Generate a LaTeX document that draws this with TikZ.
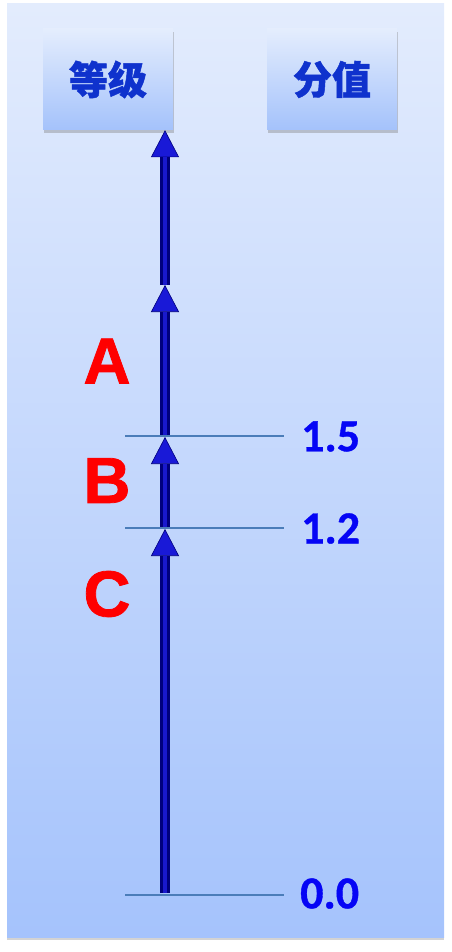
\documentclass[tikz,border=0pt]{standalone}
\usepackage{fontspec}
\setmainfont{Liberation Sans}
\newfontfamily\cjk{Noto Sans CJK SC}[BoldFeatures={FakeBold=1.2}]
\newfontfamily\numfont{Carlito}[BoldFeatures={FakeBold=0.8}]
\newfontfamily\gradefont{Liberation Sans}[BoldFeatures={FakeBold=1.2}]
\usetikzlibrary{arrows.meta,shadows}
\definecolor{panelTop}{RGB}{227,236,253}
\definecolor{panelBot}{RGB}{165,195,252}
\definecolor{hdrTop}{RGB}{228,237,253}
\definecolor{hdrBot}{RGB}{164,194,251}
\definecolor{hdrText}{RGB}{15,50,205}
\definecolor{shaftDark}{RGB}{0,0,125}
\definecolor{shaftLight}{RGB}{25,25,205}
\definecolor{tipFill}{RGB}{25,25,215}
\definecolor{tickLine}{RGB}{75,125,185}
\definecolor{numBlue}{RGB}{5,5,245}
\begin{document}
\begin{tikzpicture}[x=1pt,y=-1pt,
  hdr/.style={minimum width=130pt,minimum height=101pt,inner sep=0pt,
    top color=hdrTop,bottom color=hdrBot,
    drop shadow={opacity=0.4,shadow xshift=0.5pt,shadow yshift=-3pt},
    font=\cjk\bfseries\fontsize{39}{40}\selectfont,text=hdrText},
  shaft/.style={line width=9.5pt,draw=shaftDark,
    -{Triangle[width=28pt,length=27pt,line width=0.6pt,fill=tipFill,color=shaftDark]}},
  shine/.style={line width=3.5pt,draw=shaftLight,shorten >=27pt},
  tick/.style={draw=tickLine,line width=1.4pt},
  num/.style={anchor=west,inner sep=0pt,text=numBlue,font=\numfont\bfseries\fontsize{46}{46}\selectfont},
  grade/.style={inner sep=0pt,text=red,font=\gradefont\bfseries\fontsize{65}{65}\selectfont}]
\useasboundingbox (0,0) rectangle (451,952);
% panel
\fill[top color=panelTop,bottom color=panelBot,
  drop shadow={opacity=0.35,shadow xshift=0pt,shadow yshift=-3pt}]
  (7,4) rectangle (444,937);
% headers
\node[hdr] (lvl) at (108,79.5) {等级};
\node[hdr] (val) at (332,79.5) {分值};
% chain points
\coordinate (p0) at (165,893);
\coordinate (p1) at (165,529);
\coordinate (p2) at (165,437);
\coordinate (p3) at (165,285);
\coordinate (ptop) at (p3 |- lvl.south);
% shafts
\draw[shaft] (p0) -- (p1);
\draw[shaft] (p1) -- (p2);
\draw[shaft] (p2) -- (p3);
\draw[shaft] (p3) -- (ptop);
\draw[shine] (p0) -- (p1);
\draw[shine] (p1) -- (p2);
\draw[shine] (p2) -- (p3);
\draw[shine] (p3) -- (ptop);
% ticks
\coordinate (t15a) at (125,436); \coordinate (t15b) at (284,436);
\coordinate (t12a) at (125,528); \coordinate (t12b) at (284,528);
\coordinate (t00a) at (125,895); \coordinate (t00b) at (284,895);
\draw[tick] (t15a) -- (t15b);
\draw[tick] (t12a) -- (t12b);
\draw[tick] (t00a) -- (t00b);
% values
\node[num] (v15) at (301,436.5) {1.5};
\node[num] (v12) at (301,528.5) {1.2};
\node[num] (v00) at (300,893.5) {0.0};
% grades
\node[grade] (gA) at (107,361) {A};
\node[grade] (gB) at (107,480.5) {B};
\node[grade] (gC) at (107,594) {C};
\end{tikzpicture}
\end{document}
